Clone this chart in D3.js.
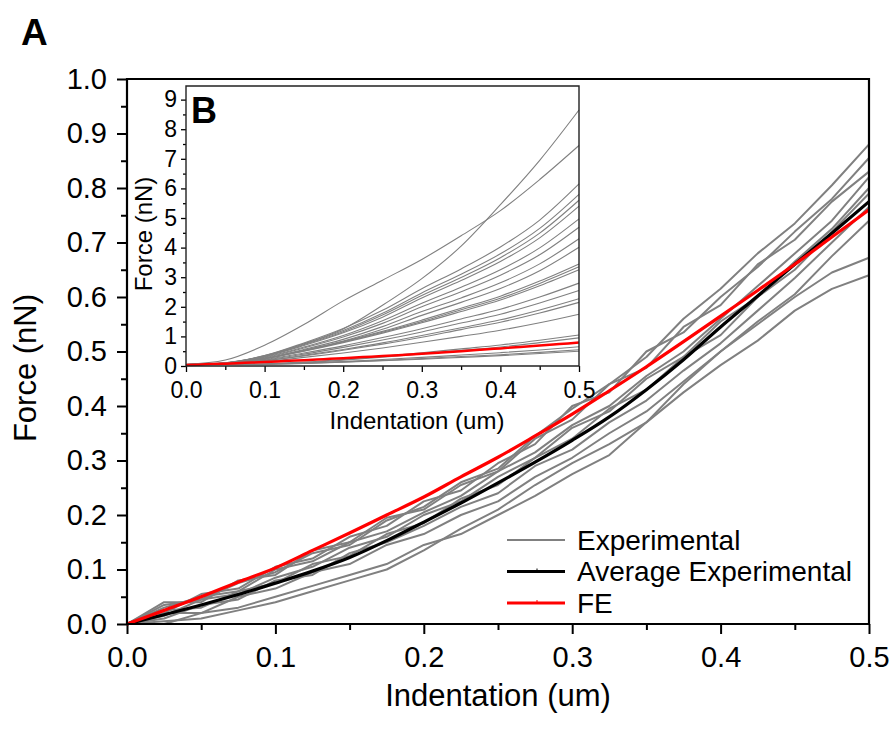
<!DOCTYPE html>
<html><head><meta charset="utf-8">
<script src="https://cdn.jsdelivr.net/npm/d3@7/dist/d3.min.js"></script>
<style>body{margin:0;background:#fff}text{font-family:"Liberation Sans",Arial,sans-serif;fill:#000}</style>
</head><body><svg id="c" width="895" height="733"></svg>
<script>
// ---------- DATA ----------
const indentation = [0,0.025,0.05,0.075,0.1,0.125,0.15,0.175,0.2,0.225,0.25,0.275,0.3,0.325,0.35,0.375,0.4,0.425,0.45,0.475,0.5];
const exp1  = [0,0.035,0.045,0.075,0.095,0.13,0.145,0.19,0.215,0.26,0.285,0.345,0.395,0.44,0.49,0.56,0.615,0.68,0.735,0.805,0.88];
const exp2  = [0,0.02,0.055,0.065,0.105,0.12,0.16,0.18,0.225,0.245,0.295,0.33,0.4,0.425,0.5,0.535,0.6,0.655,0.72,0.78,0.855];
const exp3  = [0,0.04,0.04,0.08,0.09,0.135,0.15,0.195,0.21,0.255,0.28,0.34,0.375,0.44,0.47,0.545,0.585,0.66,0.705,0.775,0.83];
const exp4  = [0,0.015,0.045,0.055,0.085,0.105,0.14,0.16,0.2,0.225,0.27,0.305,0.36,0.39,0.45,0.49,0.555,0.6,0.665,0.725,0.8];
const exp5  = [0,0.025,0.03,0.06,0.075,0.11,0.125,0.165,0.185,0.23,0.255,0.305,0.34,0.395,0.43,0.49,0.53,0.6,0.65,0.72,0.79];
const exp6  = [0,0.01,0.035,0.045,0.08,0.09,0.13,0.15,0.18,0.215,0.24,0.29,0.32,0.37,0.41,0.465,0.515,0.575,0.635,0.7,0.765];
const exp7  = [0,0.02,0.02,0.05,0.065,0.095,0.11,0.145,0.165,0.2,0.225,0.27,0.305,0.35,0.39,0.445,0.5,0.555,0.605,0.675,0.74];
const exp8  = [0,0.0,0.02,0.03,0.05,0.07,0.09,0.11,0.145,0.165,0.2,0.235,0.275,0.31,0.37,0.44,0.5,0.55,0.6,0.645,0.672];
const exp9  = [0,0.005,0.01,0.025,0.04,0.06,0.08,0.1,0.135,0.175,0.21,0.255,0.295,0.33,0.37,0.425,0.475,0.52,0.575,0.615,0.64];
const exp10 = [0,0.03,0.05,0.06,0.1,0.115,0.15,0.17,0.205,0.235,0.28,0.315,0.365,0.4,0.455,0.5,0.56,0.62,0.68,0.74,0.82];
const avgExperimental = [0,0.017,0.035,0.054,0.075,0.097,0.122,0.153,0.187,0.222,0.259,0.297,0.337,0.38,0.43,0.485,0.545,0.602,0.66,0.717,0.775];
const feValues = [0,0.025,0.05,0.077,0.103,0.135,0.167,0.2,0.233,0.27,0.306,0.345,0.385,0.428,0.472,0.518,0.565,0.612,0.66,0.71,0.76];

const insetIndentation = [0,0.05,0.1,0.15,0.2,0.25,0.3,0.35,0.4,0.45,0.5];
const insetForces = [
  [0,0.05,0.3,0.7,1.2,2.0,2.9,4.0,5.4,6.9,8.6],
  [0,0.15,0.65,1.35,2.15,2.85,3.55,4.35,5.2,6.25,7.4],
  [0,0.06,0.3,0.73,1.22,1.83,2.56,3.23,3.97,4.88,6.1],
  [0,0.06,0.29,0.69,1.15,1.73,2.42,3.05,3.74,4.6,5.75],
  [0,0.05,0.28,0.67,1.11,1.67,2.33,2.94,3.61,4.44,5.55],
  [0,0.05,0.27,0.64,1.07,1.6,2.25,2.84,3.48,4.28,5.35],
  [0,0.05,0.25,0.59,0.98,1.48,2.07,2.61,3.2,3.94,4.92],
  [0,0.05,0.23,0.56,0.93,1.39,1.95,2.46,3.02,3.71,4.64],
  [0,0.04,0.21,0.51,0.85,1.28,1.79,2.25,2.76,3.4,4.25],
  [0,0.04,0.2,0.48,0.79,1.19,1.66,2.1,2.57,3.17,3.96],
  [0,0.03,0.2,0.48,0.78,1.12,1.5,1.9,2.31,2.82,3.4],
  [0,0.03,0.2,0.46,0.76,1.09,1.45,1.85,2.24,2.74,3.3],
  [0,0.03,0.19,0.45,0.74,1.06,1.41,1.79,2.18,2.66,3.2],
  [0,0.03,0.17,0.39,0.63,0.91,1.21,1.54,1.87,2.28,2.75],
  [0,0.03,0.15,0.35,0.58,0.83,1.1,1.4,1.7,2.08,2.5],
  [0,0.02,0.13,0.31,0.51,0.73,0.98,1.24,1.51,1.84,2.22],
  [0,0.02,0.13,0.29,0.48,0.69,0.92,1.18,1.43,1.74,2.1],
  [0,0.02,0.1,0.24,0.39,0.56,0.75,0.95,1.16,1.41,1.7],
  [0,0,0.02,0.08,0.17,0.28,0.4,0.53,0.66,0.82,1.0],
  [0,0,0.02,0.07,0.15,0.25,0.36,0.48,0.59,0.74,0.9],
  [0,0,0.01,0.05,0.1,0.17,0.24,0.32,0.4,0.49,0.6],
  [0,0,0.01,0.04,0.09,0.14,0.2,0.27,0.33,0.41,0.5],
  [0,0,0.01,0.04,0.08,0.13,0.18,0.24,0.3,0.37,0.45]
];

const mainXTicks = [0,0.1,0.2,0.3,0.4,0.5];
const mainYTicks = [0,0.1,0.2,0.3,0.4,0.5,0.6,0.7,0.8,0.9,1.0];
const insetXTicks = [0,0.1,0.2,0.3,0.4,0.5];
const insetYTicks = [0,1,2,3,4,5,6,7,8,9];
const legendLabels = ["Experimental","Average Experimental","FE"];
const legendColors = ["#808080","#000000","#ff0000"];

// ---------- DRAW ----------
const svg = d3.select("#c");
const FONT = '"Liberation Sans",Arial,sans-serif';

const X = d3.scaleLinear().domain([0,0.5]).range([127,869]);
const Y = d3.scaleLinear().domain([0,1]).range([624,79]);

function styleAxis(g, w, fs){
  g.selectAll(".domain").remove();
  g.selectAll(".tick line").attr("stroke","#000").attr("stroke-width",w);
  g.selectAll(".tick text").attr("font-size",fs).attr("font-family",FONT).attr("fill","#000");
}
const minorOf = (t)=>{const r=[];for(let i=0;i<t.length-1;i++)r.push((t[i]+t[i+1])/2);return r;};

svg.append("g").attr("transform","translate(0,624)")
  .call(d3.axisBottom(X).tickValues(minorOf(mainXTicks)).tickSize(6).tickFormat(""))
  .call(g=>styleAxis(g,2,0));
svg.append("g").attr("transform","translate(127,0)")
  .call(d3.axisLeft(Y).tickValues(minorOf(mainYTicks)).tickSize(6).tickFormat(""))
  .call(g=>styleAxis(g,2,0));
svg.append("g").attr("transform","translate(0,624)")
  .call(d3.axisBottom(X).tickValues(mainXTicks).tickSize(10).tickPadding(12).tickFormat(d3.format(".1f")))
  .call(g=>styleAxis(g,2,29));
svg.append("g").attr("transform","translate(127,0)")
  .call(d3.axisLeft(Y).tickValues(mainYTicks).tickSize(10).tickPadding(10).tickFormat(d3.format(".1f")))
  .call(g=>styleAxis(g,2,29));

const lineMain = d3.line().x(d=>X(d[0])).y(d=>Y(d[1]));
const expSeries = [exp1,exp2,exp3,exp4,exp5,exp6,exp7,exp8,exp9,exp10];
expSeries.forEach(s=>{
  svg.append("path").datum(indentation.map((x,i)=>[x,s[i]]))
    .attr("d",lineMain).attr("fill","none").attr("stroke","#808080").attr("stroke-width",2).attr("stroke-linejoin","round");
});
const smooth = d3.line().x(d=>X(d[0])).y(d=>Y(d[1])).curve(d3.curveMonotoneX);
svg.append("path").datum(indentation.map((x,i)=>[x,avgExperimental[i]]))
  .attr("d",smooth).attr("fill","none").attr("stroke","#000").attr("stroke-width",3.2);
svg.append("path").datum(indentation.map((x,i)=>[x,feValues[i]]))
  .attr("d",smooth).attr("fill","none").attr("stroke","#ff0000").attr("stroke-width",3.2);

svg.append("path").attr("d",`M${X(0)},${Y(0)}V${Y(1)}H${X(0.5)}V${Y(0)}Z`)
  .attr("fill","none").attr("stroke","#000").attr("stroke-width",2.2);

svg.append("text").attr("x",498).attr("y",706).attr("text-anchor","middle").attr("font-size",31).text("Indentation (um)");
svg.append("text").attr("transform","translate(36,368) rotate(-90)").attr("text-anchor","middle").attr("font-size",31).text("Force (nN)");
svg.append("text").attr("x",21).attr("y",45).attr("font-size",37).attr("font-weight","bold").text("A");

legendLabels.forEach((lab,i)=>{
  const y = 540 + i*31.5;
  svg.append("line").attr("x1",507).attr("x2",565).attr("y1",y).attr("y2",y)
    .attr("stroke",legendColors[i]).attr("stroke-width",i===0?2:3);
  if(i>0) svg.append("line").attr("x1",537).attr("x2",537).attr("y1",y-3).attr("y2",y)
    .attr("stroke",legendColors[i]).attr("stroke-width",1);
  svg.append("text").attr("x",577).attr("y",y).attr("dy","0.35em").attr("font-size",28).text(lab);
});

// ---------- INSET ----------
const IX = d3.scaleLinear().domain([0,0.5]).range([186,579]);
const IY = d3.scaleLinear().domain([0,9.46]).range([366,86]);

svg.append("g").attr("transform","translate(0,366)")
  .call(d3.axisBottom(IX).tickValues(minorOf(insetXTicks)).tickSize(4).tickFormat(""))
  .call(g=>styleAxis(g,1.3,0));
svg.append("g").attr("transform","translate(186,0)")
  .call(d3.axisLeft(IY).tickValues(minorOf(insetYTicks)).tickSize(3).tickFormat(""))
  .call(g=>styleAxis(g,1.3,0));
svg.append("g").attr("transform","translate(0,366)")
  .call(d3.axisBottom(IX).tickValues(insetXTicks).tickSize(6).tickPadding(10).tickFormat(d3.format(".1f")))
  .call(g=>styleAxis(g,1.3,23));
svg.append("g").attr("transform","translate(186,0)")
  .call(d3.axisLeft(IY).tickValues(insetYTicks).tickSize(5).tickPadding(4).tickFormat(d3.format("d")))
  .call(g=>styleAxis(g,1.3,23));

const lineInset = d3.line().x(d=>IX(d[0])).y(d=>IY(d[1])).curve(d3.curveMonotoneX);
insetForces.forEach(s=>{
  svg.append("path").datum(insetIndentation.map((x,i)=>[x,s[i]+0.05]))
    .attr("d",lineInset).attr("fill","none").attr("stroke","#808080").attr("stroke-width",1.1);
});
svg.append("path").datum(indentation.map((x,i)=>[x,feValues[i]+0.03]))
  .attr("d",lineInset).attr("fill","none").attr("stroke","#ff0000").attr("stroke-width",2.5);

svg.append("path").attr("d",`M${IX(0)},${IY(0)}V${IY(9.46)}H${IX(0.5)}V${IY(0)}Z`)
  .attr("fill","none").attr("stroke","#222").attr("stroke-width",1.4);

svg.append("text").attr("x",417).attr("y",429).attr("text-anchor","middle").attr("font-size",24).text("Indentation (um)");
svg.append("text").attr("transform","translate(152,234) rotate(-90)").attr("text-anchor","middle").attr("font-size",24).text("Force (nN)");
svg.append("text").attr("x",191).attr("y",123).attr("font-size",36).attr("font-weight","bold").text("B");
</script></body></html>
